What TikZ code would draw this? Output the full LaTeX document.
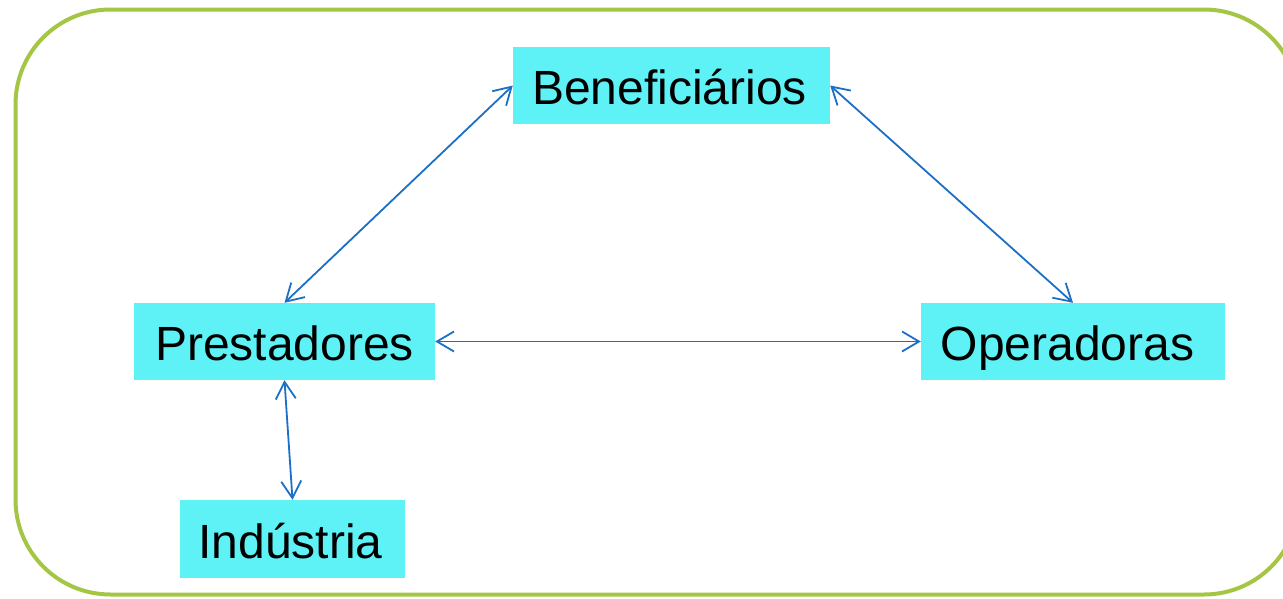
\documentclass[tikz,border=0pt]{standalone}
\usepackage{fontspec}
\setmainfont{Liberation Sans}
\usetikzlibrary{arrows.meta}
\definecolor{boxcyan}{HTML}{5EF1F6}
\definecolor{framegreen}{HTML}{A5C645}
\definecolor{arrowblue}{HTML}{1C6FC6}
\begin{document}
\begin{tikzpicture}[x=1pt,y=-1pt,
  box/.style={fill=boxcyan, draw=none, inner sep=0pt, anchor=center,
    text height=38pt, text depth=0pt,
    font=\fontsize{48}{56}\selectfont},
  link/.style={draw=arrowblue, line width=1.8pt,
    {Straight Barb[length=17pt,width=20pt,line width=1.8pt]}-{Straight Barb[length=17pt,width=20pt,line width=1.8pt]}}]
\useasboundingbox (0,0) rectangle (1283,598);
\clip (0,0) rectangle (1283,598);
\draw[framegreen, line width=4pt, rounded corners=95pt] (15.5,9.5) rectangle (1299,594.5);
\node[box, minimum width=317pt, minimum height=77pt] (ben) at (671.5,85.5) {Beneficiários\kern4pt};
\node[box, minimum width=301pt, minimum height=77pt] (pre) at (284.5,341.5) {Prestadores};
\node[box, minimum width=304pt, minimum height=77pt] (ope) at (1073,341.5) {Operadoras\kern11pt};
\node[box, minimum width=225pt, minimum height=78pt] (ind) at (292.5,539) {Indústria\kern4pt};
\draw[link] (pre.north) -- (ben.west);
\draw[link] (ben.east) -- (ope.north);
\draw[link] (pre.east) -- (ope.west);
\draw[link] (pre.south) -- (ind.north);
\end{tikzpicture}
\end{document}
